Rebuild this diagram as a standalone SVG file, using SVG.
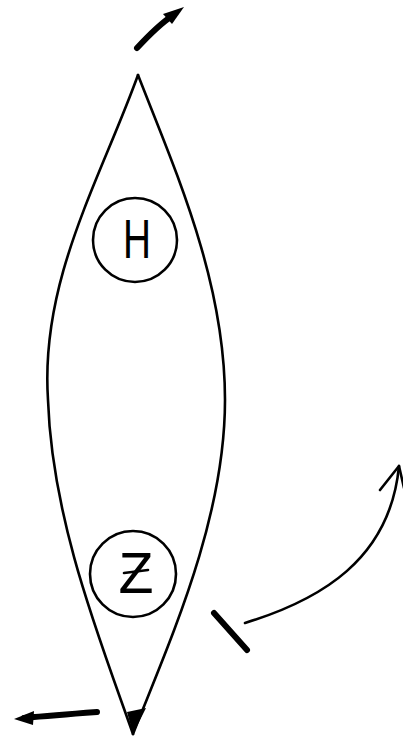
<svg xmlns="http://www.w3.org/2000/svg" width="403" height="738" viewBox="0 0 403 738">
<style>
.ln{fill:none;stroke:#000;stroke-width:2.6;stroke-linecap:round;stroke-linejoin:round}
.thick{fill:none;stroke:#000;stroke-width:6;stroke-linecap:round;stroke-linejoin:round}
.lbl{font-family:"Liberation Sans",Arial,sans-serif;fill:#000;text-anchor:middle}
</style>
<rect width="403" height="738" fill="#fff"/>
<g id="lens">
<path class="ln" d="M138,75 C100,180 40,280 48,400 C52,520 100,640 133,734"/>
<path class="ln" d="M138,75 C175,170 225,280 225,400 C225,520 170,640 133,734"/>
<path d="M127,712 L133,734 L146,708 Z" fill="#000"/>
</g>
<g id="H">
<circle class="ln" cx="135" cy="240" r="42"/>
<text class="lbl" x="137" y="258" font-size="56" textLength="28" lengthAdjust="spacingAndGlyphs">H</text>
</g>
<g id="Z">
<circle class="ln" cx="133" cy="574" r="43"/>
<text class="lbl" x="136" y="593" font-size="58" textLength="35" lengthAdjust="spacingAndGlyphs">Z</text>
<line class="ln" x1="124" y1="573" x2="148" y2="570"/>
</g>
<g id="connectors">
<path class="thick" d="M137,48 C150,34 160,24 172,16"/>
<path d="M184,7 L163,14 L172,24 Z" fill="#000"/>
<path class="thick" d="M97,712 C70,714 45,716 24,718"/>
<path d="M14,719 L34,711 L33,725 Z" fill="#000"/>
<line class="thick" x1="214" y1="613" x2="247" y2="650"/>
<path class="ln" d="M245,623 C320,600 390,560 399,466"/>
<path class="ln" d="M380,490 L399,466 L404,488"/>
</g>
</svg>
